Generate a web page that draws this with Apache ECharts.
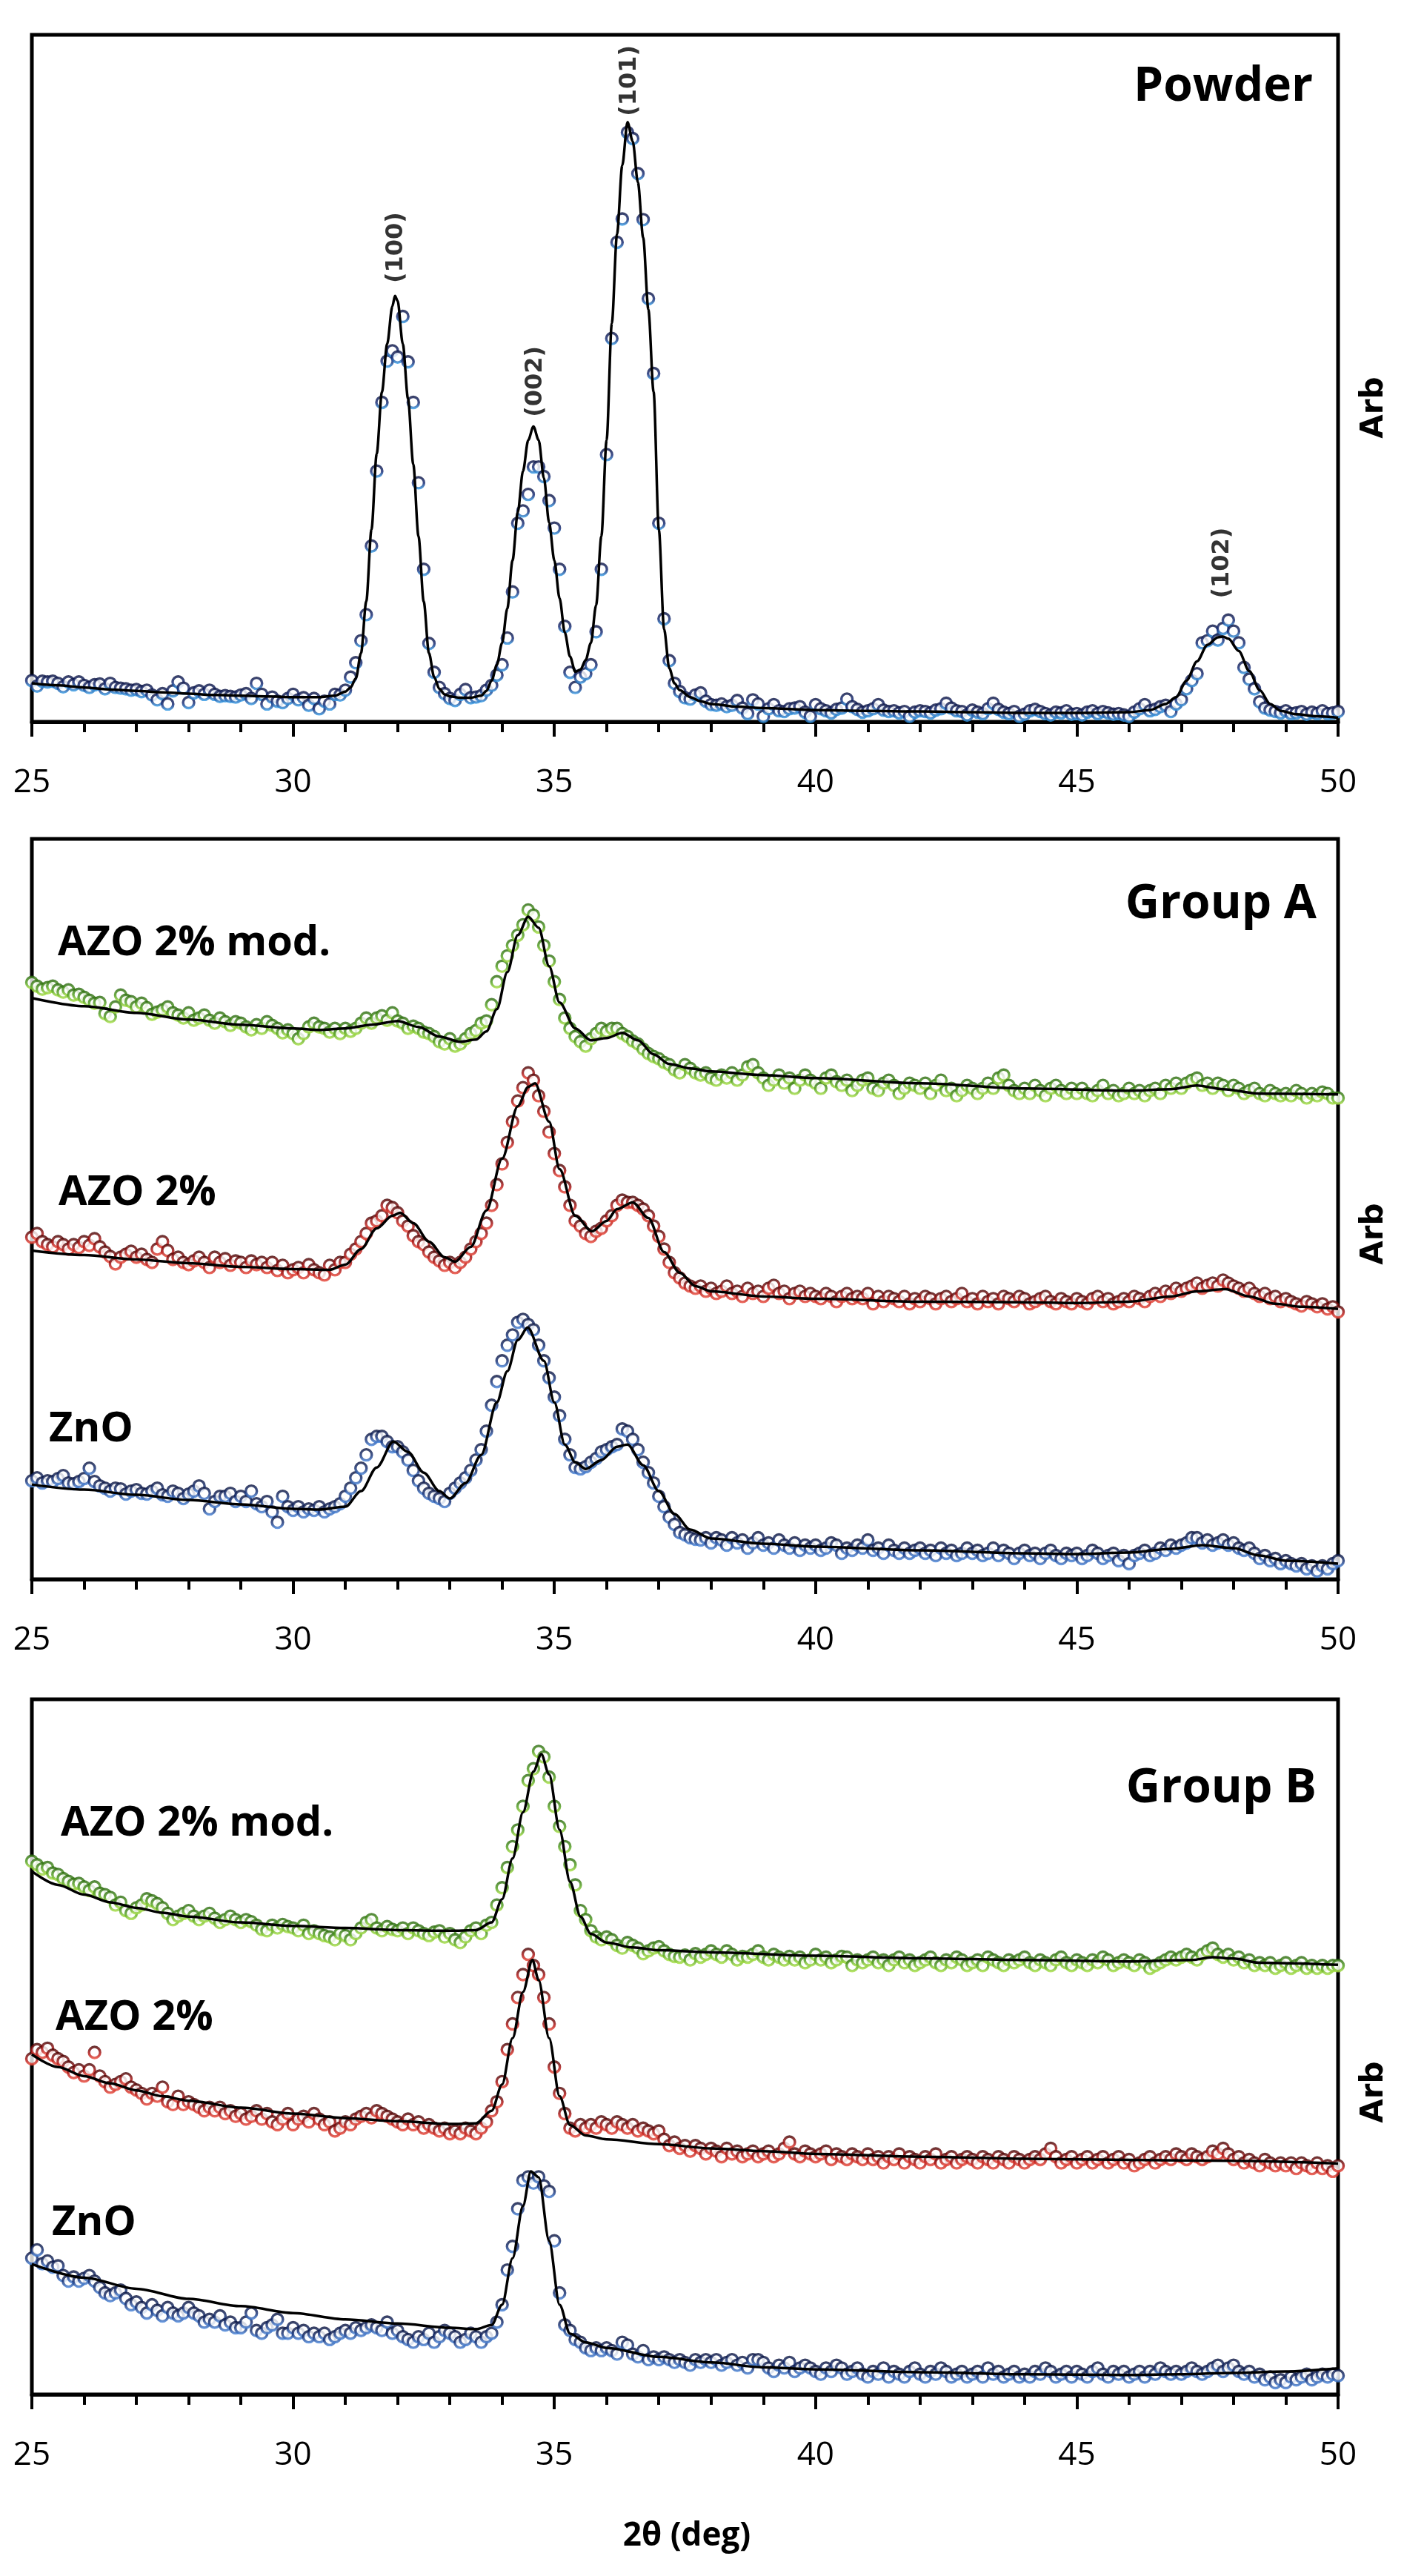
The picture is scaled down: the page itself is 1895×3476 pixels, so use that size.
<!DOCTYPE html>
<html>
<head>
<meta charset="utf-8">
<script src="https://cdn.jsdelivr.net/npm/echarts@6/dist/echarts.min.js"></script>
<style>
  html, body { margin: 0; padding: 0; background: #fff; }
  #main { width: 1895px; height: 3476px; }
</style>
</head>
<body>
<div id="main"></div>
<script>
// scan grid (deg 2theta), step 0.1
var twoTheta = [
  25.0,25.1,25.2,25.3,25.4,25.5,25.6,25.7,25.8,25.9,
  26.0,26.1,26.2,26.3,26.4,26.5,26.6,26.7,26.8,26.9,
  27.0,27.1,27.2,27.3,27.4,27.5,27.6,27.7,27.8,27.9,
  28.0,28.1,28.2,28.3,28.4,28.5,28.6,28.7,28.8,28.9,
  29.0,29.1,29.2,29.3,29.4,29.5,29.6,29.7,29.8,29.9,
  30.0,30.1,30.2,30.3,30.4,30.5,30.6,30.7,30.8,30.9,
  31.0,31.1,31.2,31.3,31.4,31.5,31.6,31.7,31.8,31.9,
  32.0,32.1,32.2,32.3,32.4,32.5,32.6,32.7,32.8,32.9,
  33.0,33.1,33.2,33.3,33.4,33.5,33.6,33.7,33.8,33.9,
  34.0,34.1,34.2,34.3,34.4,34.5,34.6,34.7,34.8,34.9,
  35.0,35.1,35.2,35.3,35.4,35.5,35.6,35.7,35.8,35.9,
  36.0,36.1,36.2,36.3,36.4,36.5,36.6,36.7,36.8,36.9,
  37.0,37.1,37.2,37.3,37.4,37.5,37.6,37.7,37.8,37.9,
  38.0,38.1,38.2,38.3,38.4,38.5,38.6,38.7,38.8,38.9,
  39.0,39.1,39.2,39.3,39.4,39.5,39.6,39.7,39.8,39.9,
  40.0,40.1,40.2,40.3,40.4,40.5,40.6,40.7,40.8,40.9,
  41.0,41.1,41.2,41.3,41.4,41.5,41.6,41.7,41.8,41.9,
  42.0,42.1,42.2,42.3,42.4,42.5,42.6,42.7,42.8,42.9,
  43.0,43.1,43.2,43.3,43.4,43.5,43.6,43.7,43.8,43.9,
  44.0,44.1,44.2,44.3,44.4,44.5,44.6,44.7,44.8,44.9,
  45.0,45.1,45.2,45.3,45.4,45.5,45.6,45.7,45.8,45.9,
  46.0,46.1,46.2,46.3,46.4,46.5,46.6,46.7,46.8,46.9,
  47.0,47.1,47.2,47.3,47.4,47.5,47.6,47.7,47.8,47.9,
  48.0,48.1,48.2,48.3,48.4,48.5,48.6,48.7,48.8,48.9,
  49.0,49.1,49.2,49.3,49.4,49.5,49.6,49.7,49.8,49.9,
  50.0
];
var xTicks = [25, 30, 35, 40, 45, 50];

// measured intensities, arb. units (0-100 per panel)
var powderPts = [
  6.0,5.2,5.9,5.8,5.9,5.6,5.1,5.8,5.4,5.8,
  5.3,5.0,5.4,5.5,4.8,5.6,5.0,4.9,4.8,4.6,
  4.7,4.4,4.6,3.9,3.2,4.1,2.6,4.5,5.8,4.9,
  2.8,4.2,4.5,4.0,4.6,4.0,3.7,3.8,3.7,3.6,
  3.9,4.1,3.4,5.6,4.0,2.6,3.6,3.0,2.8,3.4,
  4.0,3.2,3.5,2.4,3.4,1.9,3.0,2.6,4.0,3.9,
  4.6,6.5,8.6,11.8,15.6,25.6,36.5,46.5,52.5,54.0,
  53.1,59.0,52.4,46.5,34.8,22.2,11.4,7.2,5.0,4.1,
  3.4,3.1,4.0,4.7,3.5,3.6,3.8,4.6,5.3,6.8,
  8.3,12.2,18.9,28.9,30.7,33.1,37.1,37.1,35.7,32.2,
  28.2,22.2,13.9,7.2,5.0,6.5,7.0,8.3,13.1,22.2,
  38.9,55.8,69.8,73.2,85.8,84.9,79.8,73.1,61.6,50.7,
  28.9,15.0,8.9,5.6,4.4,3.5,3.3,3.9,4.2,3.0,
  2.5,2.4,2.6,2.2,2.4,3.1,2.0,1.2,3.2,2.6,
  0.8,1.9,2.5,1.6,1.5,1.9,2.0,2.2,1.4,0.8,
  2.5,1.9,1.6,1.3,1.8,2.0,3.3,2.2,1.8,1.4,
  1.6,1.9,2.5,1.7,1.5,1.6,1.3,1.5,0.8,1.4,
  1.6,1.5,1.3,1.7,1.9,2.7,2.0,1.6,1.5,1.0,
  1.7,1.4,1.2,1.9,2.7,1.8,1.4,1.2,1.5,0.8,
  1.1,1.6,1.8,1.5,1.2,1.0,1.4,1.3,1.6,1.1,
  1.2,1.0,1.4,1.6,1.2,1.5,1.3,1.1,1.2,1.0,
  0.8,1.4,1.9,2.5,1.6,1.8,2.2,2.4,1.5,2.6,
  3.2,4.8,6.0,7.0,11.5,11.8,13.2,11.9,13.6,14.8,
  13.2,11.5,7.9,6.2,4.8,2.9,2.0,1.7,1.5,1.3,
  1.6,1.2,1.3,1.5,1.1,1.4,1.2,1.6,1.2,1.3,
  1.5
];
var powderFit = [
  [25.0,5.6],[25.5,5.3],[26.0,5.0],[26.5,4.7],[27.0,4.5],[27.5,4.3],[28.0,4.1],[28.5,3.9],
  [29.0,3.8],[29.5,3.7],[30.0,3.6],[30.5,3.6],[30.8,3.8],[31.0,4.4],[31.1,5.0],[31.2,6.3],
  [31.3,10.0],[31.4,17.5],[31.5,28],[31.6,39],[31.7,48],[31.8,55],[31.9,60.5],[31.95,62],
  [32.0,61.3],[32.1,55],[32.2,47],[32.3,37.5],[32.4,27],[32.5,17.5],[32.6,10],[32.7,6.5],
  [32.8,4.8],[32.9,4.0],[33.0,3.7],[33.2,3.5],[33.4,3.5],[33.6,3.8],[33.7,4.5],[33.8,6.0],
  [33.9,8.3],[34.0,11.5],[34.1,16.5],[34.2,23.5],[34.3,30.5],[34.4,36.5],[34.5,41],[34.6,43],
  [34.7,41],[34.8,35.5],[34.9,29],[35.0,23.5],[35.1,18],[35.2,13],[35.3,9.5],[35.4,7.3],
  [35.5,7.6],[35.6,9.0],[35.7,11.5],[35.8,17],[35.9,27],[36.0,41],[36.1,58],[36.2,71],
  [36.3,81],[36.4,87.3],[36.5,84.5],[36.6,78.5],[36.7,70.5],[36.8,60],[36.9,48],[37.0,28],
  [37.1,13.5],[37.2,7.8],[37.3,5.6],[37.4,4.6],[37.6,3.6],[37.8,3.0],[38.0,2.6],[38.5,2.2],
  [39.0,2.0],[40.0,1.7],[41.0,1.6],[42.0,1.5],[43.0,1.4],[44.0,1.3],[45.0,1.3],[46.0,1.4],
  [46.4,1.7],[46.7,2.6],[46.9,3.6],[47.1,6.0],[47.3,8.8],[47.5,11.2],[47.7,12.3],[47.8,12.4],
  [47.9,12.1],[48.1,10.3],[48.3,7.4],[48.5,4.6],[48.7,2.6],[48.9,1.6],[49.2,1.1],[49.6,0.8],
  [50.0,0.6]
];
var peakNames = ['(100)', '(002)', '(101)', '(102)'];
var peakAt = [[31.97, 63.8], [34.64, 44.3], [36.44, 88.1], [47.78, 17.9]];

// Group A
var azoModA = [
  80.6,80.1,79.7,79.9,80.1,79.6,79.3,79.6,78.9,79.0,
  78.6,78.2,77.8,77.9,76.4,76.0,77.3,78.9,78.2,78.0,
  77.3,77.8,77.2,76.3,76.6,76.9,77.3,76.5,76.2,75.8,
  76.5,75.5,75.8,76.2,75.5,75.1,75.8,75.3,74.8,75.3,
  75.1,74.6,74.2,74.9,74.4,75.3,74.8,74.4,73.8,74.2,
  73.7,73.0,73.7,74.6,75.1,74.6,74.4,73.9,74.4,73.7,
  74.4,74.0,74.4,75.1,75.8,75.1,75.8,76.1,75.5,76.5,
  75.4,75.1,74.4,74.7,74.4,73.9,73.7,73.3,72.6,72.3,
  73.0,72.0,72.3,73.0,73.7,74.1,75.1,75.4,77.6,80.7,
  82.8,84.2,85.6,87.0,88.4,90.4,89.7,88.1,85.6,83.5,
  80.7,78.3,75.8,74.4,73.3,72.6,72.0,73.0,73.7,74.4,
  74.0,74.4,74.4,73.7,73.3,72.7,72.3,71.6,71.0,70.6,
  70.3,69.8,69.5,68.8,68.4,69.5,69.0,68.4,68.1,68.4,
  67.7,67.4,68.1,67.7,68.4,67.4,68.1,69.2,69.5,68.4,
  67.7,66.7,67.4,68.1,67.0,67.7,66.3,67.4,68.1,67.4,
  67.0,66.3,67.7,68.1,67.2,66.7,67.4,66.0,66.7,67.4,
  67.7,66.3,66.0,67.0,67.4,66.7,65.6,66.3,67.0,66.7,
  66.3,67.0,65.6,66.7,67.4,66.0,66.3,65.3,66.0,66.7,
  66.3,65.6,66.3,67.0,66.3,67.7,68.1,66.7,66.0,65.6,
  66.3,65.6,66.7,66.0,65.3,66.3,66.7,66.0,65.6,66.3,
  65.6,66.3,65.6,65.3,66.0,66.7,65.6,66.0,65.3,65.6,
  66.3,65.6,66.0,65.3,66.0,66.3,65.6,66.7,66.3,67.0,
  66.3,67.0,67.4,67.7,66.7,67.0,66.3,67.0,66.7,66.0,
  66.7,66.3,65.6,66.0,66.3,65.6,65.3,66.0,65.6,65.3,
  65.6,65.3,66.0,65.6,65.0,65.6,65.3,65.8,65.6,65.0,
  65.0
];
var azoModAFit = [
  [25,78.5],[26,77.4],[27,76.5],[28,75.6],[29,74.9],[30,74.4],[30.5,74.2],[31,74.4],
  [31.5,74.9],[32,75.4],[32.4,74.6],[32.8,73.3],[33.2,72.6],[33.5,72.9],[33.7,74.0],[33.9,77.0],
  [34.1,82.0],[34.3,87.0],[34.5,89.5],[34.7,88.0],[34.9,82.8],[35.1,77.9],[35.4,74.4],[35.7,72.8],
  [36.0,73.1],[36.3,73.8],[36.6,72.8],[36.9,70.9],[37.2,69.6],[37.6,69.0],[38,68.6],[39,68.1],
  [40,67.7],[42,67.0],[44,66.3],[46,66.0],[46.8,66.2],[47.3,66.7],[47.8,66.2],[48.5,65.6],[50,65.5]
];
var azoA = [
  46.2,46.7,45.6,45.2,44.9,45.6,45.2,44.6,45.2,44.8,
  45.6,45.1,46.0,44.9,44.2,43.6,42.6,43.5,43.9,44.3,
  43.5,43.9,43.2,42.8,44.6,45.6,44.4,43.2,43.5,42.8,
  42.5,43.0,43.5,42.8,42.1,43.5,42.8,43.3,42.4,43.0,
  42.8,42.1,43.0,42.5,42.8,42.1,42.8,41.7,42.4,41.4,
  41.8,42.1,41.4,42.5,41.8,41.4,41.1,42.4,41.8,42.8,
  42.8,43.9,44.6,45.6,46.7,48.1,48.4,49.1,50.5,50.2,
  49.5,48.4,47.7,46.4,45.6,45.2,44.2,43.5,43.0,42.4,
  42.8,42.1,42.8,43.5,44.6,45.6,46.7,48.1,50.5,53.3,
  56.1,59.0,61.8,64.6,66.4,68.4,67.4,65.3,63.2,60.4,
  57.5,55.2,53.0,50.5,48.4,47.7,46.7,46.3,47.0,47.4,
  48.4,49.1,50.5,51.2,50.9,50.9,50.5,50.0,49.1,47.7,
  46.3,44.6,42.8,41.4,40.7,40.0,39.6,39.3,39.6,38.9,
  39.3,38.6,38.9,39.6,38.6,38.9,38.2,39.3,38.6,38.9,
  38.2,39.3,39.7,38.6,38.9,37.9,38.6,38.9,38.2,38.6,
  38.2,37.9,38.6,38.2,37.5,38.2,38.6,37.9,38.2,37.9,
  38.6,37.2,38.2,37.5,38.2,37.9,37.5,38.2,37.2,37.9,
  37.5,38.2,37.9,37.2,37.9,38.2,37.5,37.9,38.6,37.5,
  37.9,37.2,38.2,37.5,37.9,37.2,38.2,37.9,37.5,38.2,
  37.9,37.2,37.5,37.9,38.2,37.5,37.2,37.9,37.5,37.2,
  37.9,37.5,37.2,37.9,38.2,37.5,37.9,37.2,37.5,37.9,
  37.5,38.2,37.9,37.5,38.2,38.6,38.2,38.9,38.6,39.3,
  38.9,39.3,39.6,40.0,39.3,39.7,40.0,39.6,40.4,40.0,
  39.6,39.3,38.9,39.3,38.6,38.2,38.6,37.9,38.2,37.5,
  37.9,37.5,37.2,36.9,37.5,37.2,36.8,37.2,36.5,36.8,
  36.1
];
var azoAFit = [
  [25,44.4],[26,43.8],[27,43.2],[28,42.7],[29,42.2],[30,41.9],[30.7,41.8],[31.0,42.5],
  [31.3,44.6],[31.6,47.4],[31.9,49.1],[32.05,49.5],[32.3,48.1],[32.6,45.6],[32.9,43.5],[33.1,42.9],
  [33.4,44.9],[33.7,49.8],[34.0,56.8],[34.3,63.9],[34.5,66.5],[34.63,67.0],[34.9,61.8],[35.1,55.4],
  [35.4,49.1],[35.72,47.0],[36.0,48.4],[36.2,50.0],[36.5,50.9],[36.8,48.8],[37.1,44.2],[37.4,41.4],
  [37.7,39.6],[38,38.9],[39,38.2],[40,37.9],[42,37.5],[44,37.4],[45,37.3],[46,37.5],
  [46.8,38.2],[47.3,38.9],[47.84,39.2],[48.3,38.2],[48.8,37.2],[49.3,36.8],[50,36.5]
];
var znoA = [
  13.3,13.7,13.0,13.3,13.2,13.6,14.0,13.0,12.9,13.2,
  13.6,15.0,13.2,12.6,12.3,11.9,12.3,12.2,11.5,11.9,
  12.1,11.6,11.5,11.9,12.3,11.4,11.2,11.9,11.6,10.9,
  11.5,11.9,12.6,11.6,9.5,10.5,11.2,11.2,11.6,10.5,
  11.2,10.5,11.9,10.2,9.8,10.5,9.1,7.7,11.2,9.8,
  9.3,9.8,9.1,9.5,9.3,9.8,9.1,9.5,9.8,10.2,
  11.2,12.3,13.7,15.0,16.8,18.9,19.3,19.3,18.6,17.9,
  17.9,17.2,16.1,14.7,13.3,12.3,11.6,11.2,10.9,10.5,
  11.6,12.3,13.0,13.7,14.7,16.1,17.5,20.0,23.5,26.7,
  29.5,31.6,33.0,34.7,35.1,34.4,33.7,31.6,29.5,27.2,
  24.6,22.1,18.9,16.8,15.1,14.9,15.2,15.8,16.3,17.2,
  17.5,17.9,18.2,20.3,20.0,18.9,17.5,15.8,14.4,13.0,
  11.2,9.8,8.4,7.4,6.3,6.0,5.6,5.4,5.3,5.6,
  4.9,5.6,5.3,4.6,5.6,4.9,5.3,4.2,4.9,5.6,
  4.6,4.9,4.2,5.3,4.6,4.2,4.9,3.9,4.6,4.2,
  4.6,3.9,4.2,4.9,4.6,3.5,4.2,3.9,4.6,4.2,
  5.3,3.9,4.2,3.5,4.6,3.9,3.5,4.2,3.5,3.9,
  4.2,3.5,3.9,3.2,4.2,3.5,3.9,3.2,3.5,4.2,
  3.5,3.9,3.2,3.5,4.2,3.2,3.9,3.5,2.8,3.5,
  3.9,3.2,3.5,2.8,3.5,3.9,3.2,2.8,3.5,3.2,
  3.5,2.8,3.2,3.9,3.5,2.8,3.2,3.5,2.5,3.2,
  2.1,3.2,3.5,3.9,3.2,3.5,4.2,3.9,4.6,4.2,
  4.6,4.9,5.6,5.6,4.9,5.3,4.6,4.9,5.3,4.6,
  4.9,4.2,3.9,4.2,3.5,2.8,3.2,2.5,2.8,2.1,
  2.5,2.1,1.8,2.1,1.4,1.8,1.1,1.8,1.4,2.1,
  2.5
];
var znoAFit = [
  [25,12.8],[26,12.1],[27,11.4],[28,10.7],[29,10.1],[30,9.5],[30.5,9.4],[31,9.8],
  [31.3,11.9],[31.6,15.1],[31.92,18.6],[32.2,17.2],[32.5,14.4],[32.8,11.9],[33.0,10.9],[33.3,13.0],
  [33.6,16.8],[33.9,23.9],[34.1,28.1],[34.3,32.3],[34.49,34.0],[34.8,29.5],[35.0,23.9],[35.2,18.2],
  [35.4,15.8],[35.6,14.9],[35.9,16.1],[36.2,17.9],[36.4,18.2],[36.7,15.4],[37.0,11.9],[37.3,8.8],
  [37.6,6.7],[38,5.5],[39,4.8],[40,4.4],[42,3.9],[44,3.5],[45,3.4],[46,3.6],
  [46.8,4.1],[47.4,4.6],[48,4.2],[48.5,3.2],[49,2.5],[50,2.1]
];

// Group B
var azoModB = [
  76.7,76.2,75.6,75.8,75.0,74.8,74.2,73.8,73.4,73.5,
  73.0,72.5,73.0,72.1,71.9,71.5,70.4,70.8,69.6,69.2,
  70.0,70.4,71.3,71.0,70.6,70.0,69.2,68.3,68.8,69.2,
  69.6,68.8,68.3,68.8,69.2,68.5,67.9,68.3,68.8,68.3,
  67.9,68.3,68.0,67.5,66.9,66.7,67.5,67.1,67.6,67.3,
  67.1,66.7,67.5,66.3,66.7,66.3,66.0,65.8,65.4,66.3,
  66.0,65.4,66.3,67.1,67.9,68.3,67.1,66.7,67.3,66.9,
  66.7,67.1,66.3,67.1,66.7,66.3,66.0,66.5,66.7,65.8,
  66.3,65.4,65.0,65.8,66.7,67.1,66.3,67.5,67.9,70.4,
  72.9,75.8,78.8,81.2,84.6,88.3,90.0,92.5,91.7,88.8,
  84.6,81.7,78.8,76.2,73.3,69.6,68.3,66.7,65.8,65.4,
  65.8,65.4,64.6,64.2,65.0,64.6,64.2,63.4,63.8,64.2,
  64.4,63.8,63.3,63.0,62.9,63.2,62.5,63.4,62.9,63.3,
  63.8,63.3,62.9,63.8,63.3,62.5,63.0,62.9,63.3,63.8,
  62.9,62.5,63.3,62.9,62.5,63.0,62.5,62.9,62.1,62.5,
  63.3,62.5,62.9,62.1,62.5,63.0,62.9,61.7,62.5,62.1,
  62.5,62.9,62.1,62.5,61.7,62.5,62.9,62.1,62.5,61.7,
  62.1,62.5,62.9,62.1,61.7,62.5,62.1,62.9,62.5,61.7,
  62.1,62.5,61.7,62.9,62.5,62.1,61.7,62.5,62.1,62.5,
  62.9,62.1,61.7,62.5,62.1,61.7,62.5,62.9,62.1,61.7,
  62.5,62.1,61.7,62.5,62.1,62.9,62.5,61.7,62.1,62.5,
  62.1,61.7,62.5,62.1,61.3,61.7,62.1,62.5,62.9,62.5,
  62.9,63.3,62.9,62.5,63.3,63.8,64.2,63.3,62.9,63.3,
  62.5,62.9,62.1,62.5,61.7,62.1,61.7,62.1,61.3,61.7,
  62.1,61.3,61.7,62.1,61.3,61.7,61.3,61.7,61.3,61.7,
  61.7
];
var azoModBFit = [
  [25,75.25],[25.5,73.3],[26,71.9],[26.5,70.8],[27,70.0],[27.5,69.3],[28,68.75],[29,67.9],
  [30,67.4],[31,67.1],[32,66.8],[33,66.7],[33.5,66.8],[33.8,67.9],[34.0,71.25],[34.2,77.1],
  [34.4,83.75],[34.6,89.6],[34.75,92.1],[34.9,89.2],[35.1,81.25],[35.3,73.75],[35.5,68.75],[35.7,66.25],
  [36,65.0],[36.5,64.3],[37,63.9],[38,63.6],[40,63.1],[42,62.75],[44,62.5],[46,62.3],
  [47.2,62.5],[47.6,62.9],[48.0,62.7],[48.5,62.1],[50,61.8]
];
var azoB = [
  48.3,49.6,49.2,49.8,48.8,48.3,47.9,47.1,46.3,46.7,
  45.8,46.7,49.2,45.8,45.0,44.2,44.6,45.0,45.4,44.2,
  43.8,43.3,42.5,43.3,42.9,44.2,42.1,41.7,42.9,41.7,
  42.1,41.7,41.3,40.8,41.3,40.8,41.3,40.4,40.8,40.0,
  40.4,39.6,40.0,40.8,39.6,40.4,39.2,38.8,39.6,40.4,
  38.8,39.6,40.0,39.2,40.4,39.6,38.8,39.2,37.9,38.3,
  39.2,38.8,39.6,40.0,40.4,39.8,40.8,40.4,40.0,39.6,
  39.2,38.8,39.6,38.8,39.2,38.3,38.8,38.3,37.9,38.3,
  37.5,37.9,37.5,38.3,37.9,37.5,38.3,39.2,40.8,42.1,
  45.0,49.6,53.3,57.1,60.4,63.3,61.7,60.4,57.1,53.3,
  47.1,43.3,40.4,38.3,37.9,38.8,38.3,38.8,38.3,39.2,
  38.8,38.3,39.2,38.8,38.3,38.8,37.9,38.3,37.9,37.5,
  37.9,36.7,35.8,36.3,35.4,35.8,35.0,35.8,35.4,34.6,
  35.4,35.0,34.2,35.4,34.6,35.0,34.2,34.6,35.0,34.2,
  34.6,35.0,34.2,34.6,35.4,36.3,34.6,34.2,35.0,34.6,
  34.2,34.6,35.0,33.8,34.6,34.2,33.8,34.6,34.2,33.8,
  34.6,33.8,34.2,33.3,34.2,33.8,34.6,33.3,34.2,33.8,
  33.3,34.2,33.8,34.6,33.3,33.8,34.2,33.3,33.8,34.2,
  33.8,33.3,34.2,33.8,33.3,34.2,33.8,33.3,34.2,33.8,
  33.3,33.8,34.2,33.8,34.6,35.4,34.2,33.3,33.8,34.2,
  33.3,33.8,34.2,33.3,33.8,34.2,33.3,33.8,34.2,33.3,
  33.8,32.9,33.3,33.8,34.2,33.3,33.8,34.2,33.8,34.6,
  34.2,33.8,34.6,34.2,33.8,34.2,35.0,34.6,35.4,34.6,
  33.8,34.2,33.3,33.8,33.3,32.9,33.8,33.3,32.9,33.3,
  32.9,33.3,32.5,33.3,32.9,32.5,33.3,32.5,32.9,32.1,
  32.9
];
var azoBFit = [
  [25,48.9],[25.5,47.1],[26,45.8],[26.5,44.75],[27,43.75],[27.5,42.9],[28,42.25],[29,41.25],
  [30,40.4],[31,39.75],[32,39.3],[33,38.9],[33.5,39.0],[33.8,40.8],[34.0,44.6],[34.2,51.25],
  [34.4,57.9],[34.58,62.5],[34.7,59.6],[34.9,51.25],[35.1,42.9],[35.3,38.75],[35.6,37.25],[36,36.7],
  [37,36.0],[38,35.4],[39,35.0],[40,34.6],[42,34.2],[44,33.9],[46,33.75],[48,33.6],[50,33.2]
];
var znoB = [
  19.6,20.8,18.8,19.2,18.3,18.5,17.1,16.3,16.9,16.3,
  16.7,17.1,16.3,15.4,14.6,14.2,14.6,15.0,13.8,12.9,
  13.3,12.5,11.7,12.9,12.1,11.3,12.5,11.7,11.3,11.7,
  12.5,11.7,11.3,10.4,10.8,10.4,11.3,10.0,10.4,9.6,
  9.6,10.4,11.7,9.2,8.8,9.6,10.0,10.8,8.8,8.8,
  9.6,8.8,9.2,8.3,8.8,8.3,8.8,7.9,8.3,8.8,
  9.2,8.8,9.6,9.2,9.6,10.0,9.6,9.2,10.4,8.8,
  9.2,8.3,7.9,7.5,8.3,7.9,8.8,7.5,8.3,9.2,
  8.8,8.3,7.5,7.9,8.8,8.3,7.5,8.3,8.8,10.4,
  12.9,17.9,21.3,26.7,30.8,31.3,30.4,31.3,30.0,29.2,
  22.1,14.6,10.0,9.2,7.9,7.5,6.7,6.3,6.7,6.3,
  6.7,6.3,5.8,7.5,7.1,5.8,5.4,6.3,5.0,5.4,
  5.0,5.4,5.0,4.6,5.0,4.6,4.2,5.0,4.6,5.0,
  4.6,5.0,4.2,4.6,5.0,4.2,4.6,3.8,5.0,5.0,
  4.6,3.8,3.3,4.2,3.8,4.6,3.3,3.8,4.2,3.8,
  3.3,2.9,3.8,3.3,4.2,3.8,2.9,3.3,3.8,2.9,
  2.5,3.3,2.9,3.8,2.5,3.3,2.9,2.5,3.3,3.8,
  2.9,2.5,3.3,2.9,3.8,3.3,2.5,2.9,3.3,2.5,
  2.9,3.3,2.5,3.8,2.9,3.3,2.5,2.9,3.3,2.5,
  2.9,2.5,3.3,2.9,3.8,3.3,2.5,2.9,3.3,2.5,
  3.3,2.9,2.5,3.3,3.8,2.9,2.5,3.3,2.9,3.3,
  2.5,2.9,3.3,2.5,3.3,2.9,3.8,3.3,2.9,3.3,
  2.9,3.3,3.8,3.3,2.9,3.3,3.8,4.2,3.3,3.8,
  4.2,3.3,2.9,3.3,2.5,2.9,2.1,2.5,1.7,2.1,
  1.7,2.5,2.1,2.5,2.9,2.1,2.5,2.9,2.5,2.9,
  2.7
];
var znoBFit = [
  [25,18.75],[26,16.8],[27,15.2],[28,13.75],[29,12.7],[30,11.7],[31,10.8],[32,10.2],
  [33,9.6],[33.5,9.4],[33.8,10.0],[34.0,12.9],[34.2,19.6],[34.4,27.1],[34.55,32.1],[34.7,31.25],
  [34.9,22.1],[35.1,12.9],[35.3,8.75],[35.6,7.5],[36,6.7],[37,5.4],[38,4.6],[39,3.9],
  [40,3.6],[42,3.2],[44,2.9],[46,2.8],[47,2.9],[48,3.1],[49,3.3],[50,3.75]
];

var chart = echarts.init(document.getElementById('main'), null, { renderer: 'canvas' });

// ring colour: dark at top, mid, light at bottom
function grad(c) {
  return new echarts.graphic.LinearGradient(0, 0, 0, 1, [
    { offset: 0, color: c[0] },
    { offset: 0.55, color: c[1] },
    { offset: 1, color: c[2] }
  ]);
}
var navyBlue = ['#08103e', '#0f2470', '#35a2ee'];
var green = ['#25640a', '#4f9e1c', '#aee646'];
var red = ['#3c0000', '#a80c0c', '#f04a3a'];
var zincBlue = ['#070f38', '#112c72', '#4a8ae2'];

function pairUp(vals) {
  var out = [];
  for (var i = 0; i < vals.length; i++) {
    out.push([twoTheta[i], vals[i]]);
  }
  return out;
}

function pts(vals, idx, colors) {
  return {
    type: 'scatter',
    xAxisIndex: idx,
    yAxisIndex: idx,
    data: pairUp(vals),
    symbol: 'circle',
    symbolSize: 15,
    silent: true,
    z: 2,
    itemStyle: {
      color: '#fff',
      borderColor: grad(colors),
      borderWidth: 3.4
    }
  };
}

function fit(data, idx) {
  return {
    type: 'line',
    xAxisIndex: idx,
    yAxisIndex: idx,
    data: data,
    showSymbol: false,
    symbol: 'none',
    smooth: 0.3,
    smoothMonotone: 'x',
    silent: true,
    z: 3,
    lineStyle: { color: '#000', width: 3.5 }
  };
}

var peakData = [];
for (var i = 0; i < peakNames.length; i++) {
  peakData.push({ name: peakNames[i], value: peakAt[i] });
}

var grids = [
  { left: 43, top: 47, width: 1763, height: 927 },
  { left: 43, top: 1132, width: 1763, height: 999 },
  { left: 43, top: 2293, width: 1763, height: 938 }
];

var xAxes = [], yAxes = [];
for (var g = 0; g < 3; g++) {
  grids[g].show = true;
  grids[g].borderColor = '#000';
  grids[g].borderWidth = 5;
  grids[g].containLabel = false;
  xAxes.push({
    gridIndex: g,
    type: 'value',
    min: xTicks[0],
    max: xTicks[xTicks.length - 1],
    interval: xTicks[1] - xTicks[0],
    axisLine: { show: true, onZero: false, lineStyle: { color: '#000', width: 5 } },
    axisTick: { show: true, inside: false, length: 20, lineStyle: { color: '#000', width: 4 } },
    minorTick: { show: true, splitNumber: 5, length: 14, lineStyle: { color: '#000', width: 4 } },
    splitLine: { show: false },
    minorSplitLine: { show: false },
    axisLabel: {
      show: true, margin: 60, color: '#000',
      fontFamily: 'Open Sans', fontSize: 44,
      showMinLabel: true, showMaxLabel: true
    }
  });
  yAxes.push({
    gridIndex: g, type: 'value', min: 0, max: 100,
    axisLine: { show: false }, axisTick: { show: false },
    axisLabel: { show: false }, splitLine: { show: false }
  });
}

var titleFont = 'bold 64px "Open Sans"';
var sampleFont = 'bold 56px "Open Sans"';
var arbFont = 'bold 42px "DejaVu Sans"';

function txt(s, x, y, font, align, rot) {
  return {
    type: 'text', x: x, y: y, rotation: rot || 0, silent: true,
    style: { text: s, font: font, fill: '#000', align: align, verticalAlign: 'middle' }
  };
}

var option = {
  backgroundColor: '#fff',
  animation: false,
  grid: grids,
  xAxis: xAxes,
  yAxis: yAxes,
  series: [
    pts(powderPts, 0, navyBlue),
    fit(powderFit, 0),
    {
      type: 'scatter', xAxisIndex: 0, yAxisIndex: 0, data: peakData,
      symbolSize: 1, silent: true, z: 4,
      itemStyle: { color: 'rgba(0,0,0,0)' },
      label: {
        show: true, formatter: '{b}', position: 'top', distance: 0,
        rotate: 90, align: 'left', verticalAlign: 'middle',
        fontFamily: 'DejaVu Sans', fontWeight: 'bold', fontSize: 32, color: '#000'
      }
    },
    pts(azoModA, 1, green),
    fit(azoModAFit, 1),
    pts(azoA, 1, red),
    fit(azoAFit, 1),
    pts(znoA, 1, zincBlue),
    fit(znoAFit, 1),
    pts(azoModB, 2, green),
    fit(azoModBFit, 2),
    pts(azoB, 2, red),
    fit(azoBFit, 2),
    pts(znoB, 2, zincBlue),
    fit(znoBFit, 2)
  ],
  graphic: [
    txt('Powder', 1772, 118, titleFont, 'right'),
    txt('Group A', 1777, 1221, titleFont, 'right'),
    txt('Group B', 1777, 2414, titleFont, 'right'),
    txt('AZO 2% mod.', 78, 1273, sampleFont, 'left'),
    txt('AZO 2%', 79, 1610, sampleFont, 'left'),
    txt('ZnO', 66, 1929, sampleFont, 'left'),
    txt('AZO 2% mod.', 82, 2461, sampleFont, 'left'),
    txt('AZO 2%', 75, 2723, sampleFont, 'left'),
    txt('ZnO', 70, 3000, sampleFont, 'left'),
    txt('Arb', 1855, 550, arbFont, 'center', Math.PI / 2),
    txt('Arb', 1855, 1665, arbFont, 'center', Math.PI / 2),
    txt('Arb', 1855, 2823, arbFont, 'center', Math.PI / 2),
    txt('2\u03b8 (deg)', 927, 3422, 'bold 44px "Open Sans"', 'center')
  ]
};

chart.setOption(option);
</script>
</body>
</html>
